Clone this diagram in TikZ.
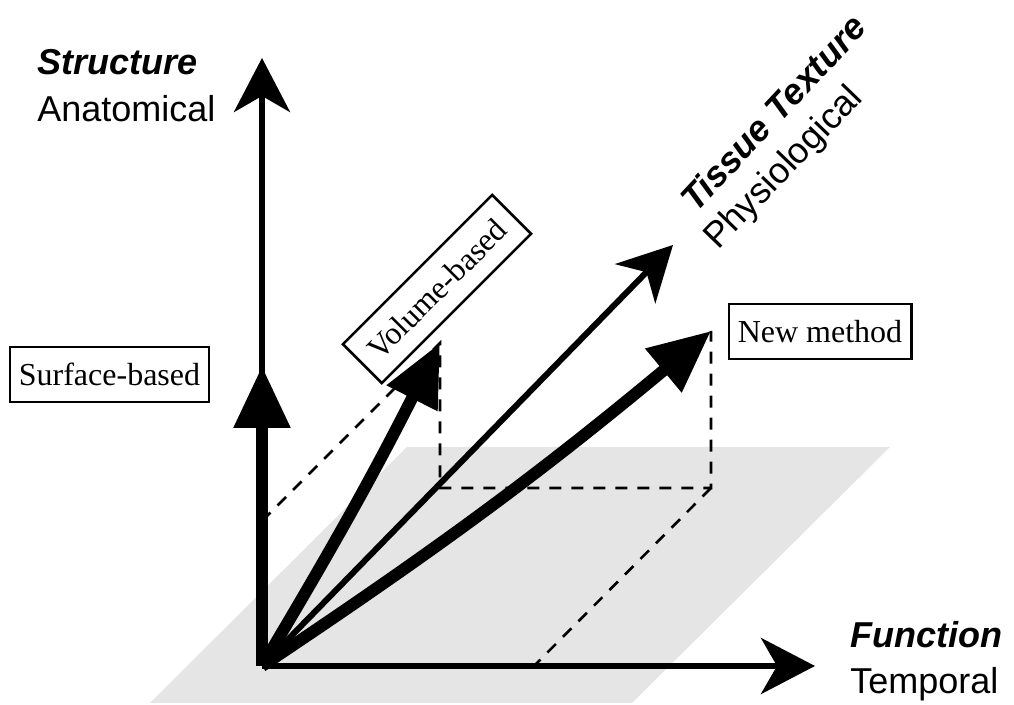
\documentclass[tikz,border=0pt]{standalone}
\usepackage{fontspec}
\setmainfont{Liberation Serif}
\setsansfont{Liberation Sans}
\usetikzlibrary{arrows.meta}

\begin{document}
\begin{tikzpicture}[
  x=0.5pt, y=0.5pt,
  axis/.style = {line width=3pt, -{Stealth[length=27pt, width=28pt, inset=8pt]}},
  method/.style = {line width=6pt, -{Triangle[length=31pt, width=27pt]}},
  proj/.style = {line width=1.3pt, dash pattern=on 6pt off 5pt},
  methodbox/.style = {draw, line width=1.3pt, fill=white,
    font=\fontsize{16}{19}\selectfont, minimum height=27.5pt,
    inner xsep=4.5pt, inner ysep=0pt},
  axislabel/.style = {anchor=base west, inner sep=0pt,
    font=\fontsize{18}{21}\selectfont\sffamily},
  axisname/.style = {axislabel,
    font=\fontsize{18}{21}\selectfont\sffamily\bfseries\itshape}]

  \useasboundingbox (0,0) rectangle (1014,705);
  \fill[black!10] (150,2) -- (632,2) -- (890,258) -- (407,258) -- cycle;

  \coordinate (O) at (262,39);
  \coordinate (struct) at (262,647);
  \coordinate (func) at (815,39);
  \coordinate (tex) at (673,460);
  \coordinate (surf) at (262,339);
  \coordinate (vol) at (440,362);
  \coordinate (volfloor) at (440,217);
  \coordinate (volwall) at (262,184);
  \coordinate (new) at (711,374);
  \coordinate (newfloor) at (711,217);
  \coordinate (newfunc) at (534,39);

  \draw[proj] (volwall) -- (vol) -- (volfloor) -- (newfloor) -- (new);
  \draw[proj] (newfloor) -- (newfunc);

  \draw[axis] (O) -- (struct);
  \draw[axis] (O) -- (func);
  \draw[axis] (O) -- (tex);

  \draw[method] (O) -- (surf);
  \draw[method] (O) to[bend right=2] (vol);
  \draw[method] (O) to[bend right=3] (new);

  \node[methodbox, minimum width=99.5pt] (surfbox) at (109.5,330.5) {Surface-based};
  \node[methodbox, minimum width=105.5pt, rotate=45] (volbox) at (437,416) {Volume-based};
  \node[methodbox, minimum width=90pt] (newbox) at (820,373.5) {New method};

  \node[axisname] (structname) at (37,630) {Structure};
  \node[axislabel] (structtype) at (37,583) {Anatomical};
  \node[axisname] (funcname) at (850,57) {Function};
  \node[axislabel] (functype) at (850,11) {Temporal};
  \node[axisname, rotate=47] (texname) at (696,491) {Tissue Texture};
  \node[axislabel, rotate=46] (textype) at (718,454) {Physiological};
\end{tikzpicture}
\end{document}
